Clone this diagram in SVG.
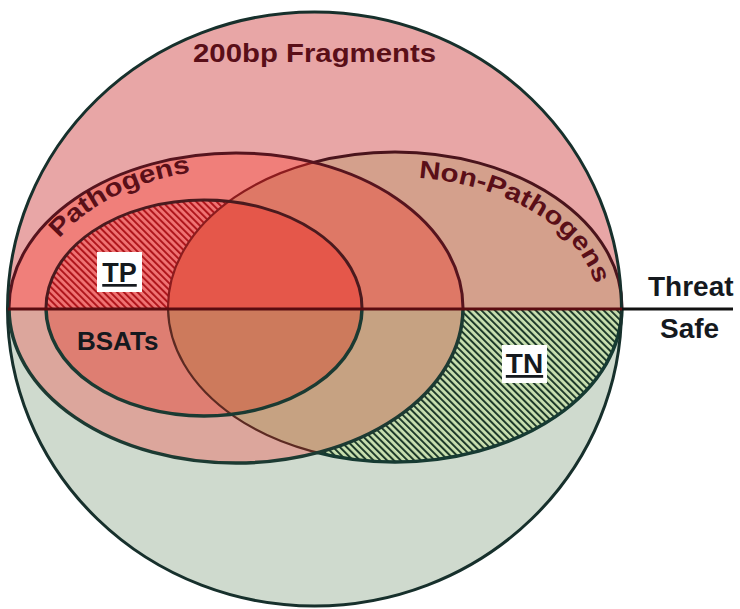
<svg xmlns="http://www.w3.org/2000/svg" width="740" height="609" viewBox="0 0 740 609">
<style>
.lbl{font-family:"Liberation Sans",Arial,sans-serif;font-weight:bold}
.mar{fill:#5a0f18}
.blk{fill:#15191e}
.ul{text-decoration:underline}
</style>
<defs>
<clipPath id="cTop"><rect x="0" y="0" width="740" height="309"/></clipPath>
<clipPath id="cBot"><rect x="0" y="309" width="740" height="300"/></clipPath>
<clipPath id="cPath"><ellipse cx="236" cy="308" rx="227" ry="155"/></clipPath>
<clipPath id="cNon"><ellipse cx="395" cy="307" rx="227" ry="155"/></clipPath>
<clipPath id="cOutPath"><path clip-rule="evenodd" d="M0 0H740V609H0Z M9 308A227 155 0 1 0 463 308A227 155 0 1 0 9 308Z"/></clipPath>
<pattern id="hTP" patternUnits="userSpaceOnUse" width="4.8" height="4.8" patternTransform="rotate(-45)">
<rect width="4.8" height="4.8" fill="#f07474"/>
<line x1="1" y1="0" x2="1" y2="4.8" stroke="#b0161c" stroke-width="2"/>
</pattern>
<pattern id="hTN" patternUnits="userSpaceOnUse" width="4.8" height="4.8" patternTransform="rotate(-45)">
<rect width="4.8" height="4.8" fill="#c9e0b0"/>
<line x1="1" y1="0" x2="1" y2="4.8" stroke="#1e3a2a" stroke-width="2"/>
</pattern>
<path id="arcP" d="M32 308A204 139 0 0 1 440 308"/>
<path id="arcN" d="M192 307A203 130 0 0 1 598 307"/>
</defs>

<g id="fragments">
<ellipse cx="314.5" cy="309" rx="307" ry="297" fill="#e8a6a6" clip-path="url(#cTop)"/>
<ellipse cx="314.5" cy="309" rx="307" ry="297" fill="#cfdace" clip-path="url(#cBot)"/>
</g>

<g id="pathogens">
<ellipse cx="236" cy="308" rx="227" ry="155" fill="#f07f7a" clip-path="url(#cTop)"/>
<ellipse cx="236" cy="308" rx="227" ry="155" fill="#dca69c" clip-path="url(#cBot)"/>
</g>

<g id="non-pathogens">
<ellipse cx="395" cy="307" rx="227" ry="155" fill="#d4a08c" clip-path="url(#cTop)"/>
<ellipse cx="395" cy="307" rx="227" ry="155" fill="url(#hTN)" clip-path="url(#cBot)"/>
<g clip-path="url(#cPath)">
<ellipse cx="395" cy="307" rx="227" ry="155" fill="#de7866" clip-path="url(#cTop)"/>
<ellipse cx="395" cy="307" rx="227" ry="155" fill="#c6a282" clip-path="url(#cBot)"/>
</g>
</g>

<g id="bsats">
<ellipse cx="204" cy="308" rx="158" ry="108" fill="url(#hTP)" clip-path="url(#cTop)"/>
<ellipse cx="204" cy="308" rx="158" ry="108" fill="#de7e72" clip-path="url(#cBot)"/>
<g clip-path="url(#cNon)">
<ellipse cx="204" cy="308" rx="158" ry="108" fill="#e5574a" clip-path="url(#cTop)"/>
<ellipse cx="204" cy="308" rx="158" ry="108" fill="#cd7a5c" clip-path="url(#cBot)"/>
</g>
</g>

<g id="outlines" fill="none">
<g clip-path="url(#cPath)">
<ellipse cx="395" cy="307" rx="227" ry="155" stroke="#8c1c1e" stroke-width="2.2" clip-path="url(#cTop)"/>
<ellipse cx="395" cy="307" rx="227" ry="155" stroke="#5c2a22" stroke-width="2.2" clip-path="url(#cBot)"/>
</g>
<g clip-path="url(#cOutPath)">
<ellipse cx="395" cy="307" rx="227" ry="155" stroke="#4a141c" stroke-width="3" clip-path="url(#cTop)"/>
<ellipse cx="395" cy="307" rx="227" ry="155" stroke="#163a32" stroke-width="3.5" clip-path="url(#cBot)"/>
</g>
<ellipse cx="236" cy="308" rx="227" ry="155" stroke="#56141e" stroke-width="3" clip-path="url(#cTop)"/>
<ellipse cx="236" cy="308" rx="227" ry="155" stroke="#1c3a32" stroke-width="3.5" clip-path="url(#cBot)"/>
<ellipse cx="204" cy="308" rx="158" ry="108" stroke="#4a1a1e" stroke-width="3" clip-path="url(#cTop)"/>
<ellipse cx="204" cy="308" rx="158" ry="108" stroke="#1a3a32" stroke-width="3.5" clip-path="url(#cBot)"/>
<ellipse cx="314.5" cy="309" rx="307" ry="297" stroke="#17302c" stroke-width="3"/>
</g>

<g id="divider">
<line x1="8" y1="309" x2="622" y2="309" stroke="#5a0c10" stroke-width="3"/>
<line x1="622" y1="309" x2="733" y2="309" stroke="#111111" stroke-width="3"/>
</g>

<g id="labels">
<text class="lbl mar" x="193" y="62" font-size="26" textLength="243" lengthAdjust="spacingAndGlyphs">200bp Fragments</text>
<text class="lbl mar" font-size="25"><textPath href="#arcP" startOffset="76" textLength="150" lengthAdjust="spacingAndGlyphs">Pathogens</textPath></text>
<text class="lbl mar" font-size="25"><textPath href="#arcN" startOffset="288" textLength="218" lengthAdjust="spacingAndGlyphs">Non-Pathogens</textPath></text>
<g id="tp">
<rect x="97" y="252" width="45" height="40" fill="#ffffff"/>
<text class="lbl blk ul" x="119.5" y="282" font-size="27" text-anchor="middle">TP</text>
</g>
<g id="tn">
<rect x="502" y="345" width="45" height="38" fill="#ffffff"/>
<text class="lbl blk ul" x="524.5" y="373" font-size="28" text-anchor="middle">TN</text>
</g>
<text class="lbl blk" x="77" y="350" font-size="26">BSATs</text>
<text class="lbl blk" x="648" y="296" font-size="28">Threat</text>
<text class="lbl blk" x="660" y="338" font-size="28">Safe</text>
</g>
</svg>
